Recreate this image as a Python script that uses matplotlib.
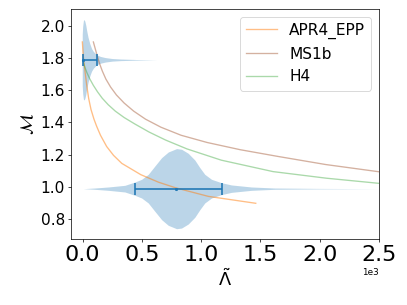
import matplotlib
matplotlib.use('Agg')
import matplotlib.pyplot as plt
import numpy as np

# EOS curves: tidal deformability vs chirp mass
lam_apr4 = [-3, 5, 19, 34, 50, 70, 95, 118, 150, 202, 260, 330, 490, 640, 785, 1060, 1460]
mc_apr4 = [1.90, 1.81, 1.72, 1.63, 1.55, 1.48, 1.42, 1.375, 1.32, 1.25, 1.195, 1.145, 1.075,
           1.028, 0.993, 0.94, 0.897]

lam_ms1b = [90, 105, 120, 140, 165, 195, 235, 285, 350, 430, 530, 660, 830, 1050, 1330, 1650,
            2050, 2500]
mc_ms1b = [1.90, 1.86, 1.82, 1.77, 1.72, 1.67, 1.62, 1.57, 1.52, 1.47, 1.42, 1.37, 1.32, 1.275,
           1.23, 1.188, 1.138, 1.093]

lam_h4 = [3, 15, 35, 60, 90, 125, 165, 215, 275, 350, 440, 560, 700, 880, 1170, 1606, 2056, 2500]
mc_h4 = [1.78, 1.75, 1.71, 1.67, 1.63, 1.59, 1.55, 1.51, 1.47, 1.43, 1.39, 1.34, 1.29, 1.235,
         1.165, 1.094, 1.053, 1.021]

# violin outlines (half widths) for the two events
pos_hi = 1.789
lam_v_hi = [-4, 0, 6, 12, 18, 26, 34, 45, 60, 75, 90, 118, 150, 190, 250, 320, 450, 625]
hw_v_hi = [0.16, 0.21, 0.245, 0.25, 0.24, 0.215, 0.18, 0.14, 0.10, 0.07, 0.052, 0.031, 0.021,
           0.014, 0.008, 0.005, 0.002, 0.0]

pos_lo = 0.988
lam_v_lo = [5, 100, 216, 356, 441, 497, 553, 609, 666, 722, 792, 834, 890, 946, 988, 1030,
            1087, 1171, 1255, 1424, 1620, 2000, 2500]
hw_v_lo = [0.0, 0.004, 0.0104, 0.0207, 0.0415, 0.058, 0.089, 0.141, 0.193, 0.228, 0.249, 0.245,
           0.220, 0.178, 0.131, 0.089, 0.058, 0.037, 0.023, 0.0104, 0.004, 0.0015, 0.0]

# error bars: median and interval ends
med_hi, left_hi, right_hi = 5, 0, 123
med_lo, left_lo, right_lo = 783, 441, 1174

xticks = [0, 500, 1000, 1500, 2000, 2500]
yticks = [0.8, 1.0, 1.2, 1.4, 1.6, 1.8, 2.0]

fig = plt.figure(figsize=(407 / 64, 305 / 64), dpi=64)
ax = fig.add_axes([0.1744, 0.2164, 0.7568, 0.7541])

ax.plot(lam_apr4, mc_apr4, color='C1', alpha=0.5, lw=1.5, label='APR4_EPP')
ax.plot(lam_ms1b, mc_ms1b, color='#a0522d', alpha=0.45, lw=1.5, label='MS1b')
ax.plot(lam_h4, mc_h4, color='C2', alpha=0.4, lw=1.5, label='H4')

for lam, hw, pos in [(lam_v_hi, hw_v_hi, pos_hi), (lam_v_lo, hw_v_lo, pos_lo)]:
    hw = np.array(hw)
    ax.fill_between(lam, pos - hw, pos + hw, color='C0', alpha=0.3, lw=0)

for med, left, right, pos in [(med_hi, left_hi, right_hi, pos_hi), (med_lo, left_lo, right_lo, pos_lo)]:
    ax.errorbar(med, pos, xerr=[[med - left], [right - med]], fmt='o', ms=2.5,
                capsize=7, color='C0', elinewidth=1.8, capthick=1.8)

ax.set_xticks(xticks)
ax.set_yticks(yticks)
ax.set_xlim(-99, 2500)
ax.set_ylim(0.675, 2.105)
ax.ticklabel_format(axis='x', style='sci', scilimits=(0, 0))
ax.tick_params(axis='x', labelsize=25)
ax.tick_params(axis='y', labelsize=17.28)
ax.set_xlabel(r'$\tilde{\Lambda}$', fontsize=20)
ax.set_ylabel(r'$\mathcal{M}$', fontsize=20)
ax.legend(loc='upper right', fontsize=17.28)

fig.savefig('out.png', dpi=64)
